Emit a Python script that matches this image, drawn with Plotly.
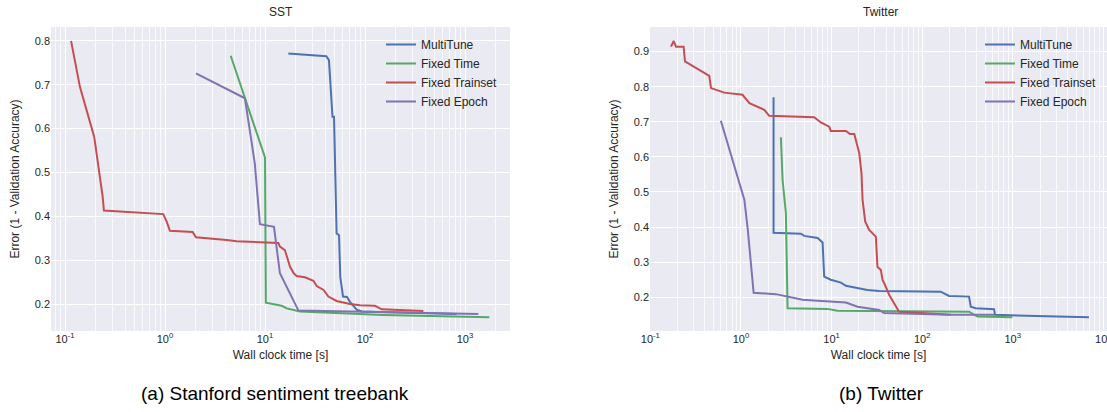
import plotly.graph_objects as go

# ---------------- data ----------------
series_names = ["MultiTune", "Fixed Time", "Fixed Trainset", "Fixed Epoch"]
series_colors = ["#4C72B0", "#55A868", "#C44E52", "#8172B2"]

# SST
sst_multitune_t = [17.1, 41, 43.6, 47.3, 49, 52, 55, 56.6, 60.3, 66, 70.8, 82.5, 92.8, 824]
sst_multitune_err = [0.771, 0.765, 0.756, 0.627, 0.627, 0.361, 0.357, 0.262, 0.217, 0.216, 0.205, 0.187, 0.183, 0.177]

sst_fixedtime_t = [4.54, 10.0, 10.2, 14.7, 16.5, 22.4, 152, 482, 1750]
sst_fixedtime_err = [0.766, 0.534, 0.203, 0.196, 0.190, 0.183, 0.175, 0.172, 0.170]

sst_trainset_t = [0.115, 0.141, 0.196, 0.222, 0.238, 0.245, 0.96, 1.04, 1.12, 1.89, 2.04, 4.14, 5.2, 13.6,
                  14.1, 15.8, 17.1, 17.8, 19.4, 20.7, 25.1, 30.5, 32.9, 38.5, 43, 52, 70.8, 89, 126, 147, 383]
sst_trainset_err = [0.800, 0.695, 0.581, 0.500, 0.445, 0.413, 0.405, 0.388, 0.367, 0.364, 0.352, 0.346, 0.343, 0.339,
                    0.331, 0.323, 0.300, 0.285, 0.270, 0.264, 0.261, 0.253, 0.241, 0.232, 0.217, 0.207, 0.200, 0.197, 0.196, 0.188, 0.184]

sst_epoch_t = [2.04, 6.3, 7.9, 8.9, 12.3, 14.1, 21.6, 1360]
sst_epoch_err = [0.726, 0.669, 0.521, 0.382, 0.376, 0.270, 0.185, 0.177]

# Twitter
tw_multitune_t = [2.29, 2.29, 4.59, 4.99, 7.01, 7.96, 8.29, 9.8, 12.7, 14.4, 24.9, 33.5, 160, 198, 329, 344, 390, 621, 637, 6920]
tw_multitune_err = [0.770, 0.384, 0.381, 0.375, 0.369, 0.356, 0.259, 0.250, 0.242, 0.233, 0.221, 0.218, 0.216, 0.204, 0.202,
                    0.173, 0.169, 0.166, 0.150, 0.143]

tw_fixedtime_t = [2.76, 2.88, 3.13, 3.22, 3.27, 9.0, 11.6, 329, 407, 990]
tw_fixedtime_err = [0.656, 0.534, 0.440, 0.300, 0.169, 0.167, 0.162, 0.159, 0.145, 0.143]

tw_trainset_t = [0.169, 0.181, 0.192, 0.233, 0.241, 0.447, 0.467, 0.654, 1.04, 1.24, 1.81, 2.05, 6.43, 7.62, 9.4, 9.8,
                 14.4, 16.0, 17.8, 20.2, 21.4, 22.0, 23.5, 26.0, 30.8, 32.1, 35.0, 36.5, 39.7, 43.2, 49.0, 55.6, 207]
tw_trainset_err = [0.914, 0.930, 0.914, 0.914, 0.872, 0.831, 0.796, 0.783, 0.777, 0.753, 0.734, 0.717, 0.713, 0.698, 0.686, 0.674,
                   0.674, 0.665, 0.665, 0.611, 0.553, 0.477, 0.416, 0.392, 0.373, 0.287, 0.278, 0.250, 0.230, 0.207, 0.183, 0.159, 0.150]

tw_epoch_t = [0.60, 1.09, 1.19, 1.38, 2.43, 3.41, 4.79, 7.0, 14.4, 19.4, 33.5, 38, 207, 621]
tw_epoch_err = [0.703, 0.478, 0.392, 0.213, 0.209, 0.202, 0.193, 0.190, 0.185, 0.173, 0.164, 0.155, 0.150, 0.150]

x_tick_vals = [0.1, 1, 10, 100, 1000, 10000]
x_tick_text = ["10<sup>-1</sup>", "10<sup>0</sup>", "10<sup>1</sup>", "10<sup>2</sup>", "10<sup>3</sup>", "10<sup>4</sup>"]
sst_y_ticks = [0.2, 0.3, 0.4, 0.5, 0.6, 0.7, 0.8]
tw_y_ticks = [0.2, 0.3, 0.4, 0.5, 0.6, 0.7, 0.8, 0.9]

panel_titles = ["SST", "Twitter"]
captions = ["(a) Stanford sentiment treebank", "(b) Twitter"]
x_label = "Wall clock time [s]"
y_label = "Error (1 - Validation Accuracy)"

# ---------------- figure ----------------
FONT = "Liberation Sans, Arial, sans-serif"
TXT = "#262626"
BG = "#EAEAF2"

fig = go.Figure()

sst_data = [(sst_multitune_t, sst_multitune_err), (sst_fixedtime_t, sst_fixedtime_err),
            (sst_trainset_t, sst_trainset_err), (sst_epoch_t, sst_epoch_err)]
tw_data = [(tw_multitune_t, tw_multitune_err), (tw_fixedtime_t, tw_fixedtime_err),
           (tw_trainset_t, tw_trainset_err), (tw_epoch_t, tw_epoch_err)]

for (t, e), name, col in zip(sst_data, series_names, series_colors):
    fig.add_trace(go.Scatter(x=t, y=e, mode="lines", name=name, line=dict(color=col, width=2),
                             xaxis="x", yaxis="y", legend="legend"))
for (t, e), name, col in zip(tw_data, series_names, series_colors):
    fig.add_trace(go.Scatter(x=t, y=e, mode="lines", name=name, line=dict(color=col, width=2),
                             xaxis="x2", yaxis="y2", legend="legend2"))

minor_vals = [m * 10 ** k for k in range(-2, 5) for m in range(2, 10)]

def xaxis_style(domain, rng, anchor):
    return dict(type="log", domain=domain, range=rng, anchor=anchor, automargin=False,
                tickvals=x_tick_vals, ticktext=x_tick_text, ticks="", ticklabeloverflow="allow",
                showgrid=True, gridcolor="white", gridwidth=1.2,
                minor=dict(tickvals=minor_vals, showgrid=True, gridcolor="rgba(255,255,255,0.75)",
                           gridwidth=0.6, ticks=""),
                zeroline=False, showline=False,
                tickfont=dict(size=11, color=TXT, family=FONT),
                title=dict(text=x_label, font=dict(size=12, color=TXT, family=FONT), standoff=6))

def yaxis_style(domain, rng, anchor, ticks):
    return dict(domain=domain, range=rng, anchor=anchor, tickvals=ticks, automargin=False,
                ticktext=["%.1f" % v for v in ticks], ticks="",
                showgrid=True, gridcolor="white", gridwidth=1.2,
                zeroline=False, showline=False,
                tickfont=dict(size=11, color=TXT, family=FONT),
                title=dict(text=y_label, font=dict(size=12, color=TXT, family=FONT), standoff=12))

W, H = 1107, 412
ydom = [1 - 331 / H, 1 - 27 / H]
fig.update_layout(
    width=W, height=H, margin=dict(l=0, r=0, t=0, b=0, autoexpand=False),
    paper_bgcolor="white", plot_bgcolor=BG,
    font=dict(family=FONT, color=TXT),
    xaxis=xaxis_style([51 / W, 510 / W], [-1.14, 3.45], "y"),
    yaxis=yaxis_style(ydom, [0.1385, 0.8315], "x", sst_y_ticks),
    xaxis2=xaxis_style([650 / W, 1.0], [-1.004, 4.04], "y2"),
    yaxis2=yaxis_style(ydom, [0.104, 0.970], "x2", tw_y_ticks),
    legend=dict(x=381 / W, y=1 - 30 / H, xanchor="left", yanchor="top", bgcolor="rgba(0,0,0,0)",
                font=dict(size=12, color=TXT, family=FONT), tracegroupgap=0),
    legend2=dict(x=980 / W, y=1 - 30 / H, xanchor="left", yanchor="top", bgcolor="rgba(0,0,0,0)",
                 font=dict(size=12, color=TXT, family=FONT), tracegroupgap=0),
    showlegend=True,
)

fig.add_annotation(text=panel_titles[0], x=280.5 / W, y=1 - 12 / H, xref="paper", yref="paper",
                   showarrow=False, font=dict(size=12, color=TXT, family=FONT), xanchor="center", yanchor="middle")
fig.add_annotation(text=panel_titles[1], x=880 / W, y=1 - 12 / H, xref="paper", yref="paper",
                   showarrow=False, font=dict(size=12, color=TXT, family=FONT), xanchor="center", yanchor="middle")
fig.add_annotation(text=captions[0], x=275 / W, y=1 - 393 / H, xref="paper", yref="paper",
                   showarrow=False, font=dict(size=19, color="black", family=FONT), xanchor="center", yanchor="middle")
fig.add_annotation(text=captions[1], x=881 / W, y=1 - 393 / H, xref="paper", yref="paper",
                   showarrow=False, font=dict(size=19, color="black", family=FONT), xanchor="center", yanchor="middle")

fig.write_html("out.html", config={"displayModeBar": False},
               post_script="document.body.style.margin='0px';document.body.style.overflow='hidden';")
